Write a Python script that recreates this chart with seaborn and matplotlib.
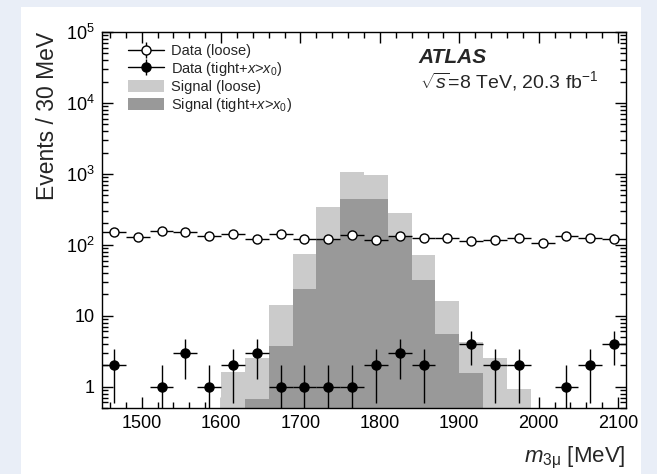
import numpy as np
import pandas as pd
import matplotlib
matplotlib.use("Agg")
import matplotlib.pyplot as plt
import seaborn as sns
from matplotlib.patches import Patch, Rectangle
from matplotlib.lines import Line2D
from matplotlib.legend_handler import HandlerTuple
from matplotlib.ticker import FixedLocator, MultipleLocator, LogLocator, NullFormatter

# ---------------- data ----------------
bin_edges = list(range(1450, 2111, 30))
bin_centers = [1465, 1495, 1525, 1555, 1585, 1615, 1645, 1675, 1705, 1735, 1765,
               1795, 1825, 1855, 1885, 1915, 1945, 1975, 2005, 2035, 2065, 2095]
signal_loose = [0, 0, 0, 0, 0, 1.62, 2.5, 14, 73, 344, 1060,
                962, 283, 71, 16, 4.3, 2.5, 0.92, 0, 0, 0, 0]
signal_tight = [0, 0, 0, 0, 0, 0, 0.67, 3.8, 23.5, 120, 441,
                441, 130, 32, 5.6, 1.57, 0, 0, 0, 0, 0, 0]
data_loose = [152, 127, 156, 152, 132, 144, 122, 142, 120, 120, 136,
              116, 133, 124, 126, 113, 116, 123, 105, 131, 123, 120]
data_tight = [2, 0, 1, 3, 1, 2, 3, 1, 1, 1, 1,
              2, 3, 2, 0, 4, 2, 2, 0, 1, 2, 4]
y_ticks = [1, 10, 100, 1000, 10000, 100000]
y_tick_labels = ["1", "10", "$10^{2}$", "$10^{3}$", "$10^{4}$", "$10^{5}$"]
x_ticks = [1500, 1600, 1700, 1800, 1900, 2000, 2100]

df = pd.DataFrame({"mass": bin_centers, "sig_loose": signal_loose,
                   "sig_tight": signal_tight})

# ---------------- style ----------------
sns.set_style("ticks")
plt.rcParams["font.family"] = ["Liberation Sans", "DejaVu Sans"]
plt.rcParams["mathtext.fontset"] = "custom"
plt.rcParams["mathtext.rm"] = "Liberation Sans"
plt.rcParams["mathtext.it"] = "Liberation Sans:italic"
plt.rcParams["mathtext.bf"] = "Liberation Sans:bold"

light = "#cbcbcb"
dark = "#999999"

fig = plt.figure(figsize=(6.57, 4.74), dpi=100)
fig.patch.set_facecolor("#e9eef7")
fig.patches.append(Rectangle((21 / 657, 0), 620 / 657, 467 / 474,
                             transform=fig.transFigure, facecolor="white",
                             edgecolor="none", zorder=-10))
ax = fig.add_axes([102 / 657, 1 - 408 / 474, 524 / 657, 376 / 474])
ax.set_facecolor("white")

sns.histplot(data=df, x="mass", weights="sig_loose", bins=bin_edges, element="step",
             fill=True, color=light, alpha=1, linewidth=0, ax=ax, legend=False)
sns.histplot(data=df, x="mass", weights="sig_tight", bins=bin_edges, element="step",
             fill=True, color=dark, alpha=1, linewidth=0, ax=ax, legend=False)

dl = np.array(data_loose, dtype=float)
ax.errorbar(bin_centers, dl, xerr=15, yerr=np.sqrt(dl), fmt="o",
            mfc="white", mec="black", color="black", ms=6.5, mew=1.0,
            elinewidth=1.0, capsize=0, zorder=4)
dt = np.array(data_tight, dtype=float)
dt_plot = np.where(dt > 0, dt, np.nan)
ax.errorbar(bin_centers, dt_plot, xerr=15, yerr=np.sqrt(dt_plot), fmt="o",
            mfc="black", mec="black", color="black", ms=6.5,
            elinewidth=1.0, capsize=0, zorder=4)

ax.set_yscale("log")
ax.set_ylim(0.5, 1e5)
ax.set_xlim(1450, 2110)

ax.yaxis.set_major_locator(FixedLocator(y_ticks))
ax.set_yticklabels(y_tick_labels)
ax.yaxis.set_minor_locator(LogLocator(base=10, subs=np.arange(2, 10), numticks=20))
ax.yaxis.set_minor_formatter(NullFormatter())
ax.xaxis.set_major_locator(FixedLocator(x_ticks))
ax.set_xticklabels([str(t) for t in x_ticks])
ax.xaxis.set_minor_locator(MultipleLocator(20))

ax.tick_params(which="both", direction="in", top=True, right=True, width=1.0,
               colors="black", labelsize=13)
ax.tick_params(which="major", length=8, pad=5)
ax.tick_params(which="minor", length=4)
for s in ax.spines.values():
    s.set_linewidth(1.0)
    s.set_color("black")

ax.set_xlabel(r"$m_{\mathrm{3\mu}}$ [MeV]", fontsize=16, loc="right", labelpad=9)
ax.set_ylabel("Events / 30 MeV", fontsize=16.5, loc="top", labelpad=5)

vbar = Line2D([], [], color="black", marker="|", ms=12, mew=1.0, linestyle="none")
h_loose = Line2D([], [], color="black", lw=1.0, marker="o", mfc="white",
                 mec="black", ms=6.5, mew=1.0)
h_tight = Line2D([], [], color="black", lw=1.0, marker="o", mfc="black",
                 mec="black", ms=6.5)
handles = [(vbar, h_loose), (vbar, h_tight),
           Patch(facecolor=light, edgecolor="none"),
           Patch(facecolor=dark, edgecolor="none")]
labels = ["Data (loose)", r"Data (tight+$x$>$x_{0}$)", "Signal (loose)",
          r"Signal (tight+$x$>$x_{0}$)"]
ax.legend(handles, labels, loc="upper left", bbox_to_anchor=(0.05, 0.968),
          frameon=False, fontsize=10.5, borderpad=0, borderaxespad=0,
          labelspacing=0.13, handlelength=2.45, handleheight=0.9,
          handletextpad=0.5, handler_map={tuple: HandlerTuple(ndivide=1, pad=0)})

ax.text(0.603, 0.932, "ATLAS", transform=ax.transAxes, fontsize=15,
        fontweight="bold", fontstyle="italic", va="center", ha="left")
ax.text(0.607, 0.870, r"$\sqrt{s}$=8 TeV, 20.3 fb$^{-1}$", transform=ax.transAxes,
        fontsize=14, va="center", ha="left")

fig.savefig("out.png", dpi=100, facecolor=fig.get_facecolor())
